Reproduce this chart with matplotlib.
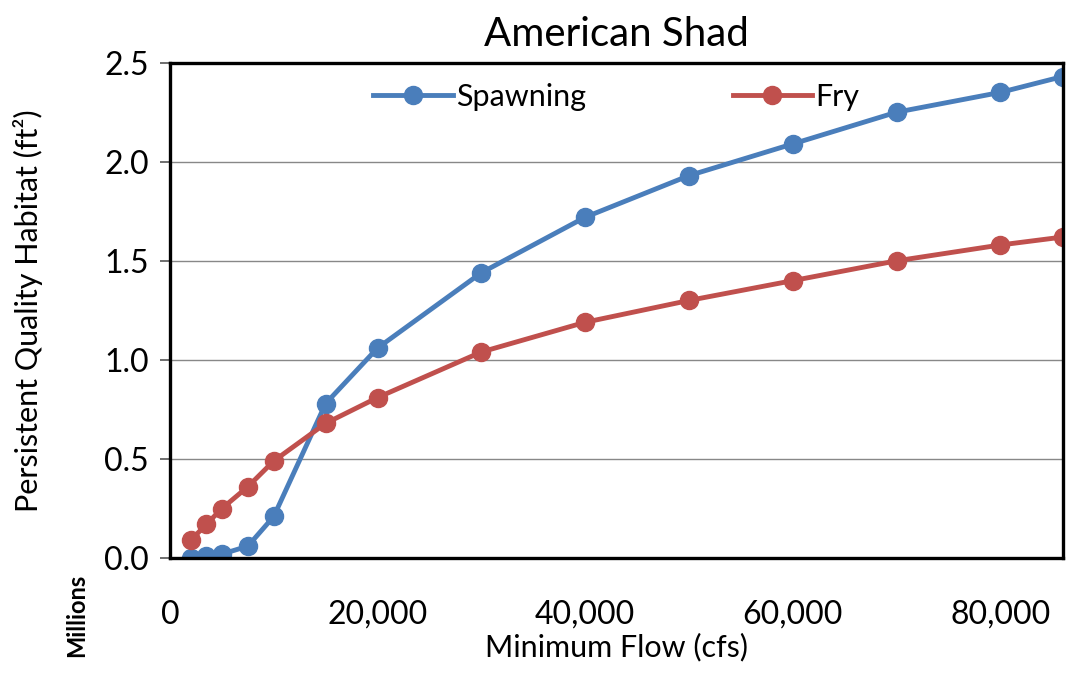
import matplotlib

matplotlib.use("Agg")
import matplotlib.pyplot as plt
from matplotlib.ticker import FuncFormatter

plt.rcParams["font.family"] = ["Lato", "DejaVu Sans"]

flow = [2000, 3500, 5000, 7500, 10000, 15000, 20000, 30000, 40000, 50000, 60000, 70000, 80000, 86000]
spawning = [0.0, 0.01, 0.02, 0.06, 0.21, 0.78, 1.06, 1.44, 1.72, 1.93, 2.09, 2.25, 2.35, 2.43]
fry = [0.09, 0.17, 0.25, 0.36, 0.49, 0.68, 0.81, 1.04, 1.19, 1.30, 1.40, 1.50, 1.58, 1.62]
x_ticks = [0, 20000, 40000, 60000, 80000]
y_ticks = [0.0, 0.5, 1.0, 1.5, 2.0, 2.5]

fig = plt.figure(figsize=(10.69, 6.74), dpi=100)
ax = fig.add_axes([0.159, 0.172, 0.835, 0.735])

ax.plot(flow, spawning, color="#4A7EBB", lw=3.5, marker="o", ms=13, label="Spawning")
ax.plot(flow, fry, color="#C0504D", lw=3.5, marker="o", ms=13, label="Fry")

ax.set_xlim(0, 86000)
ax.set_ylim(0, 2.5)
ax.set_xticks(x_ticks)
ax.set_yticks(y_ticks)
ax.xaxis.set_major_formatter(FuncFormatter(lambda v, _: f"{int(v):,}"))
ax.yaxis.set_major_formatter(FuncFormatter(lambda v, _: f"{v:.1f}"))
ax.tick_params(axis="both", labelsize=23, direction="out", length=7, width=1.2, color="#555555")
ax.tick_params(axis="x", length=0, pad=30)
ax.tick_params(axis="y", pad=8)
ax.grid(axis="y", color="#888888", lw=1)
ax.set_axisbelow(True)
for side in ax.spines.values():
    side.set_linewidth(2.4)
    side.set_color("black")

ax.set_title("American Shad", fontsize=29, pad=12)
ax.set_xlabel("Minimum Flow (cfs)", fontsize=22, labelpad=2)
ax.set_ylabel("Persistent Quality Habitat (ft²)", fontsize=22, labelpad=44)
fig.text(0.072, 0.025, "Millions", rotation=90, fontsize=17, fontweight="bold", ha="center", va="bottom")

ax.legend(loc="upper center", bbox_to_anchor=(0.5, 1.015), ncol=2, frameon=False, fontsize=22,
          columnspacing=4.8, handlelength=2.6, handletextpad=0.1)

fig.savefig("out.png", dpi=100)
